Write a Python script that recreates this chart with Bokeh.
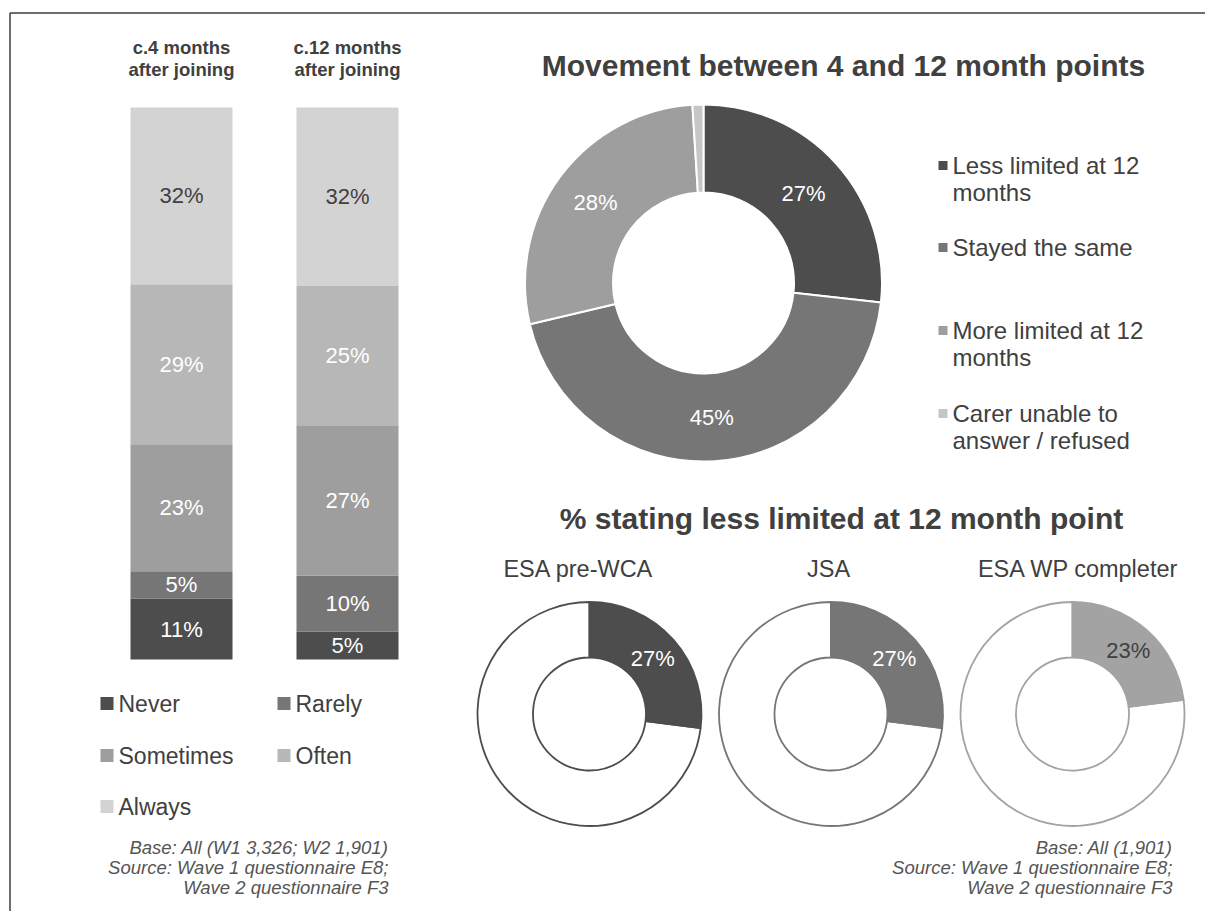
import math
from bokeh.plotting import figure
from bokeh.models import Range1d
from bokeh.core.properties import value
from bokeh.embed import file_html
from bokeh.resources import INLINE

# ---------------- data ----------------
bar_titles = ["c.4 months\nafter joining", "c.12 months\nafter joining"]
freq_levels = ["Never", "Rarely", "Sometimes", "Often", "Always"]
wave1_pct = [11, 5, 23, 29, 32]
wave2_pct = [5, 10, 27, 25, 32]
freq_colors = ["#4d4d4d", "#767676", "#9e9e9e", "#b7b7b7", "#d3d3d3"]
freq_label_colors = ["white", "white", "white", "white", "#404040"]

movement_title = "Movement between 4 and 12 month points"
movement_cats = ["Less limited at 12\nmonths", "Stayed the same",
                 "More limited at 12\nmonths", "Carer unable to\nanswer / refused"]
movement_pct = [27, 45, 28, 1]
movement_colors = ["#4d4d4d", "#767676", "#9e9e9e", "#c6c6c6"]

less_title = "% stating less limited at 12 month point"
groups = ["ESA pre-WCA", "JSA", "ESA WP completer"]
less_limited_pct = [27, 27, 23]
group_colors = ["#4d4d4d", "#767676", "#a3a3a3"]
group_label_colors = ["white", "white", "#404040"]

left_note = ["Base: All (W1 3,326; W2 1,901)", "Source: Wave 1 questionnaire E8;", "Wave 2 questionnaire F3"]
right_note = ["Base: All (1,901)", "Source: Wave 1 questionnaire E8;", "Wave 2 questionnaire F3"]

# ---------------- canvas ----------------
W, H = 1205, 911
FONT = value("Liberation Sans")
TXT = "#404040"

p = figure(width=W, height=H, output_backend="svg", toolbar_location=None,
           x_range=Range1d(0, W), y_range=Range1d(0, H),
           x_axis_location=None, y_axis_location=None, min_border=0)
p.grid.visible = False
p.outline_line_color = None
p.background_fill_color = "white"
p.border_fill_color = "white"


def X(px):  # page pixel -> data x
    return px


def Y(py):  # page pixel -> data y
    return H - py


def txt(xs, ys, texts, size, color=TXT, align="center", style="normal", baseline="middle"):
    p.text(x=xs, y=ys, text=texts, text_font=FONT, text_font_size=size,
           text_color=color, text_align=align, text_baseline=baseline,
           text_font_style=style)


# frame lines (left and top)
p.line(x=[X(9.5), X(9.5)], y=[Y(911), Y(12.5)], line_color="#3c3c3c", line_width=1.5)
p.line(x=[X(9.5), X(1205)], y=[Y(12.5), Y(12.5)], line_color="#3c3c3c", line_width=1.5)

# ---------------- stacked bars ----------------
# percentage scale for bars: 0 -> page y 659, 100 -> page y 107
bar_bottom, bar_top = Y(659), Y(107)
unit = (bar_top - bar_bottom) / 100.0
p.extra_y_ranges = {"pct": Range1d(-bar_bottom / unit, (H - bar_bottom) / unit)}

bar_centers = [X(181), X(347)]
bar_w = 102
for cx, title, vals in zip(bar_centers, bar_titles, [wave1_pct, wave2_pct]):
    total = float(sum(vals))
    norm = [v * 100.0 / total for v in vals]
    bottoms, tops = [], []
    acc = 0.0
    for v in norm:
        bottoms.append(acc)
        acc += v
        tops.append(acc)
    p.vbar(x=[cx] * len(vals), width=bar_w, bottom=bottoms, top=tops,
           fill_color=freq_colors, line_color=None, y_range_name="pct")
    mids = [(b + t) / 2 for b, t in zip(bottoms, tops)]
    p.text(x=[cx] * len(vals), y=mids, text=[f"{v}%" for v in vals],
           text_font=FONT, text_font_size="22px", text_color=freq_label_colors,
           text_align="center", text_baseline="middle", y_range_name="pct")
    lines = title.split("\n")
    txt([cx] * len(lines), [Y(47), Y(69)], lines, "18.5px", style="bold")

# left legend
leg_pos = [(100, 703), (277, 703), (100, 755), (277, 755), (100, 806)]
for (lx, ly), name, col in zip(leg_pos, freq_levels, freq_colors):
    p.scatter(x=[X(lx + 6.5)], y=[Y(ly)], marker="square", size=13,
              fill_color=col, line_color=None)
    txt([X(lx + 18)], [Y(ly)], [name], "23px", align="left")

txt([X(388)] * 3, [Y(847), Y(867), Y(887)], left_note, "18.5px",
    color="#555555", align="right", style="italic")

# ---------------- main donut ----------------
txt([X(843)], [Y(65)], [movement_title], "30px", style="bold")
cx, cy, R, r = X(703), Y(282.5), 178.5, 90.5
tot = float(sum(movement_pct))
acc = 0.0
for v, col in zip(movement_pct, movement_colors):
    a0, a1 = acc / tot, (acc + v) / tot
    p.annular_wedge(x=cx, y=cy, inner_radius=r, outer_radius=R,
                    start_angle=math.pi / 2 - 2 * math.pi * a0,
                    end_angle=math.pi / 2 - 2 * math.pi * a1,
                    direction="clock", fill_color=col, line_color="white", line_width=2)
    if v >= 5:
        mid = (a0 + a1) / 2
        rm = (R + r) / 2
        txt([cx + rm * math.sin(2 * math.pi * mid)], [cy + rm * math.cos(2 * math.pi * mid)],
            [f"{v}%"], "22px", color="white")
    acc += v

leg_y = [165, 247, 330, 413]
for ly, name, col in zip(leg_y, movement_cats, movement_colors):
    p.scatter(x=[X(942.5)], y=[Y(ly)], marker="square", size=9, fill_color=col, line_color=None)
    lines = name.split("\n")
    txt([X(952)] * len(lines), [Y(ly + 27 * i) for i in range(len(lines))], lines, "24px", align="left")

# ---------------- small donuts ----------------
txt([X(841)], [Y(518)], [less_title], "30px", style="bold")
small_cx = [589, 830.5, 1072]
sub_cx = [578, 828, 1078]
scy, sR, sr = Y(713.5), 112, 56.5
for gx, sx, name, v, col, lc in zip(small_cx, sub_cx, groups, less_limited_pct, group_colors, group_label_colors):
    f = v / 100.0
    gxd = X(gx)
    p.annular_wedge(x=gxd, y=scy, inner_radius=sr, outer_radius=sR,
                    start_angle=math.pi / 2 - 2 * math.pi * f, end_angle=math.pi / 2 - 2 * math.pi,
                    direction="clock", fill_color="white", line_color=col, line_width=1.8)
    p.annular_wedge(x=gxd, y=scy, inner_radius=sr, outer_radius=sR,
                    start_angle=math.pi / 2, end_angle=math.pi / 2 - 2 * math.pi * f,
                    direction="clock", fill_color=col, line_color=col, line_width=1.8)
    mid = f / 2
    rm = (sR + sr) / 2
    txt([gxd + rm * math.sin(2 * math.pi * mid)], [scy + rm * math.cos(2 * math.pi * mid)],
        [f"{v}%"], "22px", color=lc)
    txt([X(sx)], [Y(568)], [name], "23.5px")

txt([X(1172)] * 3, [Y(847), Y(867), Y(887)], right_note, "18.5px",
    color="#555555", align="right", style="italic")

open("out.html", "w").write(file_html(p, INLINE))
